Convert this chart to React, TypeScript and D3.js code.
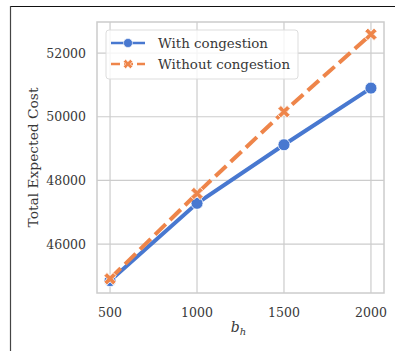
import React, { useEffect, useRef } from 'react';
import * as d3 from 'd3';

const bhValues = [500, 1000, 1500, 2000];
const withCongestion = [44850, 47280, 49120, 50900];
const withoutCongestion = [44910, 47590, 50160, 52590];
const xTicks = [500, 1000, 1500, 2000];
const yTicks = [46000, 48000, 50000, 52000];
const seriesNames = ['With congestion', 'Without congestion'];

const App = () => {
  const svgRef = useRef<SVGSVGElement>(null);

  useEffect(() => {
    const svg = d3.select(svgRef.current);
    svg.selectAll('*').remove();

    const W = 395, H = 351;
    const left = 97, right = 384, top = 22, bottom = 293;
    const font = '"DejaVu Serif", serif';
    const textColor = '#383838';

    // page border from the screenshot crop
    svg.append('line').attr('x1', 10).attr('x2', W).attr('y1', 6.5).attr('y2', 6.5)
      .attr('stroke', '#111').attr('stroke-width', 1.2);
    svg.append('line').attr('x1', 10.5).attr('x2', 10.5).attr('y1', 6).attr('y2', H)
      .attr('stroke', '#444').attr('stroke-width', 1.2);

    const allVals = withCongestion.concat(withoutCongestion);
    const [yMin, yMax] = d3.extent(allVals) as [number, number];
    const yPad = (yMax - yMin) * 0.05;
    const [xMin, xMax] = d3.extent(bhValues) as [number, number];
    const xPad = (xMax - xMin) * 0.05;

    const x = d3.scaleLinear().domain([xMin - xPad, xMax + xPad]).range([left, right]);
    const y = d3.scaleLinear().domain([yMin - yPad, yMax + yPad]).range([bottom, top]);

    const g = svg.append('g');

    // grid
    g.selectAll('.vgrid').data(xTicks).enter().append('line')
      .attr('x1', d => x(d)).attr('x2', d => x(d)).attr('y1', top).attr('y2', bottom)
      .attr('stroke', '#cccccc').attr('stroke-width', 1.2);
    g.selectAll('.hgrid').data(yTicks).enter().append('line')
      .attr('x1', left).attr('x2', right).attr('y1', d => y(d)).attr('y2', d => y(d))
      .attr('stroke', '#cccccc').attr('stroke-width', 1.2);

    // frame
    g.append('rect').attr('x', left).attr('y', top)
      .attr('width', right - left).attr('height', bottom - top)
      .attr('fill', 'none').attr('stroke', '#cccccc').attr('stroke-width', 1.5);

    // tick labels
    g.selectAll('.xt').data(xTicks).enter().append('text')
      .attr('x', d => x(d)).attr('y', 317)
      .attr('text-anchor', 'middle').attr('font-family', font).attr('font-size', 12.5)
      .attr('fill', textColor).text(d => d);
    g.selectAll('.yt').data(yTicks).enter().append('text')
      .attr('x', 86).attr('y', d => y(d)).attr('dy', '0.36em')
      .attr('text-anchor', 'end').attr('font-family', font).attr('font-size', 12.5)
      .attr('fill', textColor).text(d => d);

    // axis labels
    const xl = g.append('text').attr('x', (left + right) / 2 - 2).attr('y', 332)
      .attr('text-anchor', 'middle').attr('font-family', font).attr('font-size', 14)
      .attr('fill', textColor).attr('font-style', 'italic');
    xl.append('tspan').text('b');
    xl.append('tspan').attr('font-size', 10).attr('dy', 3).text('h');

    g.append('text')
      .attr('transform', `translate(38,${(top + bottom) / 2}) rotate(-90)`)
      .attr('text-anchor', 'middle').attr('font-family', font).attr('font-size', 13.8)
      .attr('fill', textColor).text('Total Expected Cost');

    const blue = '#4878d0';
    const orange = '#ee854a';
    const line = d3.line<number>().x((d, i) => x(bhValues[i])).y(d => y(d));

    const crossPath = d3.symbol().type(d3.symbolCross).size(95)();

    const drawSeries = (vals: number[], color: string, dashed: boolean, marker: string) => {
      g.append('path').datum(vals).attr('d', line)
        .attr('fill', 'none').attr('stroke', color).attr('stroke-width', 4)
        .attr('stroke-dasharray', dashed ? '15,6' : null);
      vals.forEach((v, i) => {
        if (marker === 'circle') {
          g.append('circle').attr('cx', x(bhValues[i])).attr('cy', y(v)).attr('r', 6)
            .attr('fill', color).attr('stroke', 'white').attr('stroke-width', 0.8);
        } else {
          g.append('path').attr('d', crossPath)
            .attr('transform', `translate(${x(bhValues[i])},${y(v)}) rotate(45)`)
            .attr('fill', color).attr('stroke', 'white').attr('stroke-width', 0.8);
        }
      });
    };

    drawSeries(withCongestion, blue, false, 'circle');
    drawSeries(withoutCongestion, orange, true, 'x');

    // legend
    const lg = g.append('g');
    lg.append('rect').attr('x', 106).attr('y', 30).attr('width', 192).attr('height', 49)
      .attr('rx', 3).attr('fill', 'white').attr('fill-opacity', 0.8)
      .attr('stroke', '#dddddd').attr('stroke-width', 1);
    const colors = [blue, orange];
    seriesNames.forEach((name, i) => {
      const ly = 43 + i * 21;
      lg.append('line').attr('x1', 111).attr('x2', 145).attr('y1', ly).attr('y2', ly)
        .attr('stroke', colors[i]).attr('stroke-width', 2.5)
        .attr('stroke-dasharray', i === 1 ? '9,4' : null);
      if (i === 0) {
        lg.append('circle').attr('cx', 128).attr('cy', ly).attr('r', 4.5)
          .attr('fill', colors[i]).attr('stroke', 'white').attr('stroke-width', 0.6);
      } else {
        lg.append('path').attr('d', d3.symbol().type(d3.symbolCross).size(55)())
          .attr('transform', `translate(128,${ly}) rotate(45)`)
          .attr('fill', colors[i]).attr('stroke', 'white').attr('stroke-width', 0.6);
      }
      lg.append('text').attr('x', 158).attr('y', ly).attr('dy', '0.36em')
        .attr('font-family', font).attr('font-size', 13.4).attr('fill', textColor).text(name);
    });
  }, []);

  return (
    <svg ref={svgRef} width={395} height={351}
      style={{ position: 'absolute', left: 0, top: 0, background: 'white' }} />
  );
};

export default App;
